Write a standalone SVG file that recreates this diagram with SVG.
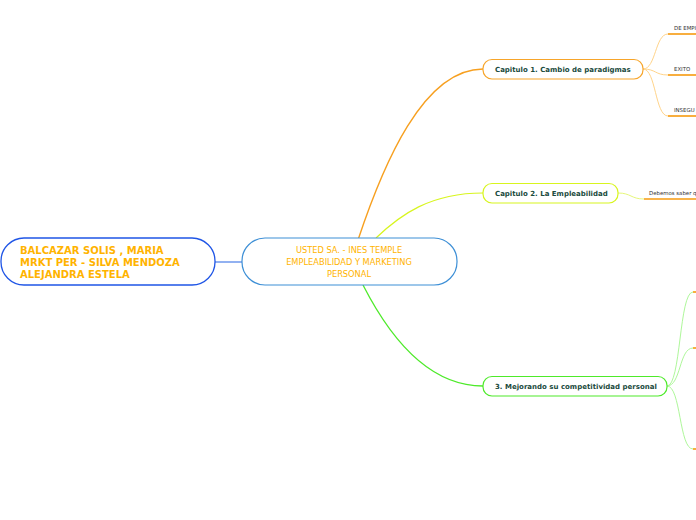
<svg xmlns="http://www.w3.org/2000/svg" width="696" height="520" viewBox="0 0 696 520">
<style>
.root{fill:#fff;stroke:#1f55e6;stroke-width:1.3}
.main{fill:#fff;stroke:#3d8fd6;stroke-width:1.2}
.rt{font-family:"DejaVu Sans",Verdana,sans-serif;font-weight:bold;font-size:10px;fill:#ffb300}
.mt{font-family:"DejaVu Sans Condensed","DejaVu Sans",sans-serif;font-size:9.2px;fill:#ffb300;text-anchor:middle}
.ct{font-family:"DejaVu Sans",Verdana,sans-serif;font-weight:bold;font-size:7px;fill:#1a4a3c}
.lt{font-family:"DejaVu Sans",Verdana,sans-serif;font-size:5.4px;fill:#333}
.c1{fill:#fff;stroke:#f7a52a;stroke-width:1.2}
.c2{fill:#fff;stroke:#d8f51e;stroke-width:1.2}
.c3{fill:#fff;stroke:#4eea2a;stroke-width:1.2}
.ul{stroke:#f79a0e;stroke-width:1.6;fill:none}
path{fill:none}
</style>
<g id="connectors">
<path d="M215,262 L242,262" stroke="#4a7de8" stroke-width="1.2"/>
<path d="M358,240 C383,165 423,69 483,69" stroke="#f7a020" stroke-width="1.4"/>
<path d="M376,238 C400,215 430,193 483,193" stroke="#d8f51e" stroke-width="1.2"/>
<path d="M363,285 C386,330 425,386 483,386" stroke="#4eea2a" stroke-width="1.3"/>
<path d="M643,69 C656,69 655,34 668,34" stroke="#ffd48a" stroke-width="1"/>
<path d="M643,69 C656,69 655,75 668,75" stroke="#ffd48a" stroke-width="1"/>
<path d="M643,69 C656,69 655,116 668,116" stroke="#ffd48a" stroke-width="1"/>
<path d="M618,193 C631,193 631,199 644,199" stroke="#e6f77a" stroke-width="1"/>
<path d="M667,386 C681,386 679,292 693,292" stroke="#aef79a" stroke-width="1"/>
<path d="M667,386 C681,386 679,348 693,348" stroke="#aef79a" stroke-width="1"/>
<path d="M667,386 C681,386 679,449 693,449" stroke="#aef79a" stroke-width="1"/>
</g>
<g id="root">
<rect class="root" x="1" y="238" width="214" height="47" rx="23"/>
<text class="rt" x="20" y="254">BALCAZAR SOLIS , MARIA</text>
<text class="rt" x="20" y="266">MRKT PER - SILVA MENDOZA</text>
<text class="rt" x="20" y="278">ALEJANDRA ESTELA</text>
</g>
<g id="main">
<rect class="main" x="242" y="238" width="215" height="47" rx="23"/>
<text class="mt" x="349" y="253">USTED SA. - INES TEMPLE</text>
<text class="mt" x="349" y="265">EMPLEABILIDAD Y MARKETING</text>
<text class="mt" x="349" y="277">PERSONAL</text>
</g>
<g id="cap1">
<rect class="c1" x="483" y="59.5" width="160" height="19.5" rx="9"/>
<text class="ct" x="495" y="72">Capitulo 1.  Cambio de paradigmas</text>
</g>
<g id="leaf1a">
<text class="lt" x="674" y="30">DE EMPI</text>
<path class="ul" d="M668,34 H696"/>
</g>
<g id="leaf1b">
<text class="lt" x="674" y="71">EXITO</text>
<path class="ul" d="M668,75 H696"/>
</g>
<g id="leaf1c">
<text class="lt" x="674" y="112">INSEGU</text>
<path class="ul" d="M668,116 H696"/>
</g>
<g id="cap2">
<rect class="c2" x="483" y="183.5" width="135" height="19.5" rx="9"/>
<text class="ct" x="495" y="196">Capitulo 2. La Empleabilidad</text>
</g>
<g id="leaf2a">
<text class="lt" x="649" y="195">Debemos saber q</text>
<path class="ul" d="M644,199 H696"/>
</g>
<g id="cap3">
<rect class="c3" x="483" y="376.5" width="184" height="19.5" rx="9"/>
<text class="ct" x="495" y="389">3. Mejorando su competitividad personal</text>
</g>
<g id="leaf3a"><path class="ul" d="M693,292 H696"/></g>
<g id="leaf3b"><path class="ul" d="M693,348 H696"/></g>
<g id="leaf3c"><path class="ul" d="M693,449 H696"/></g>
</svg>
